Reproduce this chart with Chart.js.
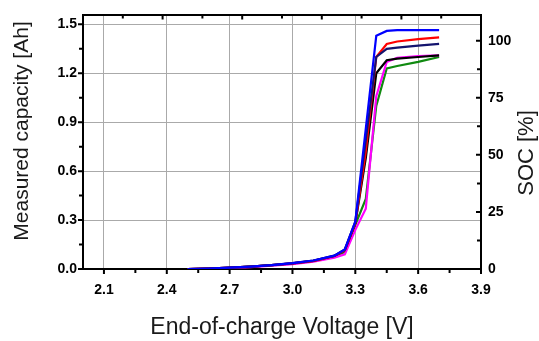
<!DOCTYPE html>
<html>
<head>
<meta charset="utf-8">
<script src="https://cdn.jsdelivr.net/npm/chart.js@4.4.0/dist/chart.umd.min.js"></script>
<style>
  html, body { margin: 0; padding: 0; background: #fff; }
  canvas { display: block; }
</style>
</head>
<body>
<canvas id="socChart" width="539" height="341"></canvas>
<script>
// End-of-charge voltage steps [V]
const voltages = [2.5, 2.6, 2.7, 2.8, 2.9, 3.0, 3.1, 3.2, 3.25, 3.3, 3.35, 3.4, 3.45, 3.5, 3.6, 3.7];

// Measured capacity for each cell [Ah]
const capBlue    = [0, 0.003, 0.008, 0.015, 0.024, 0.036, 0.052, 0.082, 0.12, 0.29, 0.86, 1.43, 1.46, 1.465, 1.465, 1.465];
const capNavy    = [0, 0.003, 0.008, 0.015, 0.024, 0.036, 0.052, 0.082, 0.12, 0.29, 0.79, 1.30, 1.35, 1.357, 1.37, 1.38];
const capRed     = [0, 0.003, 0.008, 0.015, 0.024, 0.035, 0.05, 0.08, 0.115, 0.28, 0.72, 1.30, 1.38, 1.395, 1.41, 1.42];
const capBlack   = [0, 0.003, 0.008, 0.015, 0.024, 0.035, 0.05, 0.08, 0.115, 0.28, 0.68, 1.20, 1.28, 1.29, 1.30, 1.31];
const capMagenta = [0, 0.002, 0.006, 0.012, 0.02, 0.03, 0.045, 0.07, 0.09, 0.24, 0.37, 1.06, 1.27, 1.295, 1.305, 1.31];
const capGreen   = [0, 0.003, 0.007, 0.014, 0.022, 0.033, 0.048, 0.076, 0.105, 0.27, 0.43, 1.00, 1.23, 1.245, 1.27, 1.30];

// Tick values (every other one is labelled)
const voltTicks = [2.1, 2.25, 2.4, 2.55, 2.7, 2.85, 3.0, 3.15, 3.3, 3.45, 3.6, 3.75, 3.9];
const capTicks = [0, 0.15, 0.3, 0.45, 0.6, 0.75, 0.9, 1.05, 1.2, 1.35, 1.5];
const socTicks = [0, 12.5, 25, 37.5, 50, 62.5, 75, 87.5, 100];
const topTicks = [1, 2, 3, 4, 5, 6, 7, 8, 9];

const CAP_MAX = 1.555;   // top of the left axis [Ah]
const CAP_FULL = 1.40;   // capacity that maps to 100 % SOC

Chart.defaults.font.family = '"Liberation Sans", Arial, sans-serif';
Chart.defaults.color = '#000';

const series = [
    { data: capBlue, color: '#0000ff' },
    { data: capNavy, color: '#14146e' },
    { data: capRed, color: '#ff0000' },
    { data: capBlack, color: '#000000' },
    { data: capMagenta, color: '#ff00ff' },
    { data: capGreen, color: '#108a10' }
];

const setTicks = (values) => (scale) => {
    scale.ticks = values.map(v => ({ value: v }));
};

const gridColor = (ctx) => (ctx.index % 2 === 0 && ctx.tick && ctx.tick.value > 0) ? '#aaaaaa' : 'rgba(0,0,0,0)';

// Draws tick marks on all four sides plus the two vertical axis titles
const frameMarks = {
    id: 'frameMarks',
    afterDraw(chart) {
        const { ctx, chartArea, scales } = chart;
        const { left, right, top, bottom } = chartArea;
        ctx.save();
        ctx.strokeStyle = '#000';
        ctx.lineWidth = 2;
        ctx.beginPath();
        scales.x.ticks.forEach((t, i) => {
            const px = scales.x.getPixelForValue(t.value);
            ctx.moveTo(px, bottom);
            ctx.lineTo(px, bottom + (i % 2 === 0 ? 5 : 4));
        });
        scales.y.ticks.forEach((t, i) => {
            const py = scales.y.getPixelForValue(t.value);
            ctx.moveTo(left, py);
            ctx.lineTo(left - (i % 2 === 0 ? 5 : 4), py);
        });
        scales.y2.ticks.forEach((t, i) => {
            const py = scales.y2.getPixelForValue(t.value);
            ctx.moveTo(right, py);
            ctx.lineTo(right - (i % 2 === 0 ? 5 : 4), py);
        });
        scales.x2.ticks.forEach((t) => {
            const px = scales.x2.getPixelForValue(t.value);
            ctx.moveTo(px, top);
            ctx.lineTo(px, top + (t.value % 2 === 0 ? 4 : 3));
        });
        ctx.stroke();

        // vertical titles, both read bottom to top
        ctx.fillStyle = '#1a1a1a';
        ctx.textAlign = 'center';
        ctx.textBaseline = 'middle';
        ctx.font = '21px "Liberation Sans", Arial, sans-serif';
        ctx.translate(22, 131);
        ctx.rotate(-Math.PI / 2);
        ctx.fillText('Measured capacity [Ah]', 0, 0);
        ctx.setTransform(1, 0, 0, 1, 0, 0);
        ctx.font = '22px "Liberation Sans", Arial, sans-serif';
        ctx.translate(527, 153);
        ctx.rotate(-Math.PI / 2);
        ctx.fillText('SOC [%]', 0, 0);
        ctx.restore();
    }
};

const ctx = document.getElementById('socChart').getContext('2d');
const socChart = new Chart(ctx, {
    type: 'line',
    data: {
        datasets: series.map(s => ({
            data: voltages.map((v, i) => ({ x: v, y: s.data[i] })),
            borderColor: s.color,
            borderWidth: 2.2,
            pointRadius: 0,
            tension: 0,
            fill: false
        }))
    },
    options: {
        responsive: false,
        animation: false,
        devicePixelRatio: 1,
        layout: { padding: 0 },
        plugins: {
            legend: { display: false },
            tooltip: { enabled: false }
        },
        scales: {
            x: {
                type: 'linear',
                position: 'bottom',
                min: 2.0,
                max: 3.9,
                afterBuildTicks: setTicks(voltTicks),
                afterFit: (scale) => { scale.height = 72; },
                grid: { color: gridColor, lineWidth: 1, drawTicks: false },
                border: { color: '#000', width: 2 },
                ticks: {
                    autoSkip: false,
                    maxRotation: 0,
                    padding: 13,
                    font: { size: 14, weight: 'bold' },
                    callback: (value, index) => index % 2 === 0 ? value.toFixed(1) : ''
                },
                title: {
                    display: true,
                    text: 'End-of-charge Voltage [V]',
                    color: '#1a1a1a',
                    font: { size: 23 },
                    padding: { top: 0, bottom: 0 }
                }
            },
            x2: {
                type: 'linear',
                position: 'top',
                min: 0,
                max: 10,
                afterBuildTicks: setTicks(topTicks),
                afterFit: (scale) => { scale.height = 15; },
                grid: { display: false, drawTicks: false },
                border: { color: '#000', width: 2 },
                ticks: { display: false }
            },
            y: {
                type: 'linear',
                position: 'left',
                min: 0,
                max: CAP_MAX,
                afterBuildTicks: setTicks(capTicks),
                afterFit: (scale) => { scale.width = 83; },
                grid: { color: gridColor, lineWidth: 1, drawTicks: false },
                border: { color: '#000', width: 2 },
                ticks: {
                    autoSkip: false,
                    padding: 6,
                    font: { size: 14, weight: 'bold' },
                    callback: (value, index) => index % 2 === 0 ? value.toFixed(1) : ''
                }
            },
            y2: {
                type: 'linear',
                position: 'right',
                min: 0,
                max: CAP_MAX / CAP_FULL * 100,
                afterBuildTicks: setTicks(socTicks),
                afterFit: (scale) => { scale.width = 58; },
                grid: { display: false, drawTicks: false },
                border: { color: '#000', width: 2 },
                ticks: {
                    autoSkip: false,
                    padding: 7,
                    font: { size: 14, weight: 'bold' },
                    callback: (value, index) => index % 2 === 0 ? String(value) : ''
                }
            }
        }
    },
    plugins: [frameMarks]
});
</script>
</body>
</html>
